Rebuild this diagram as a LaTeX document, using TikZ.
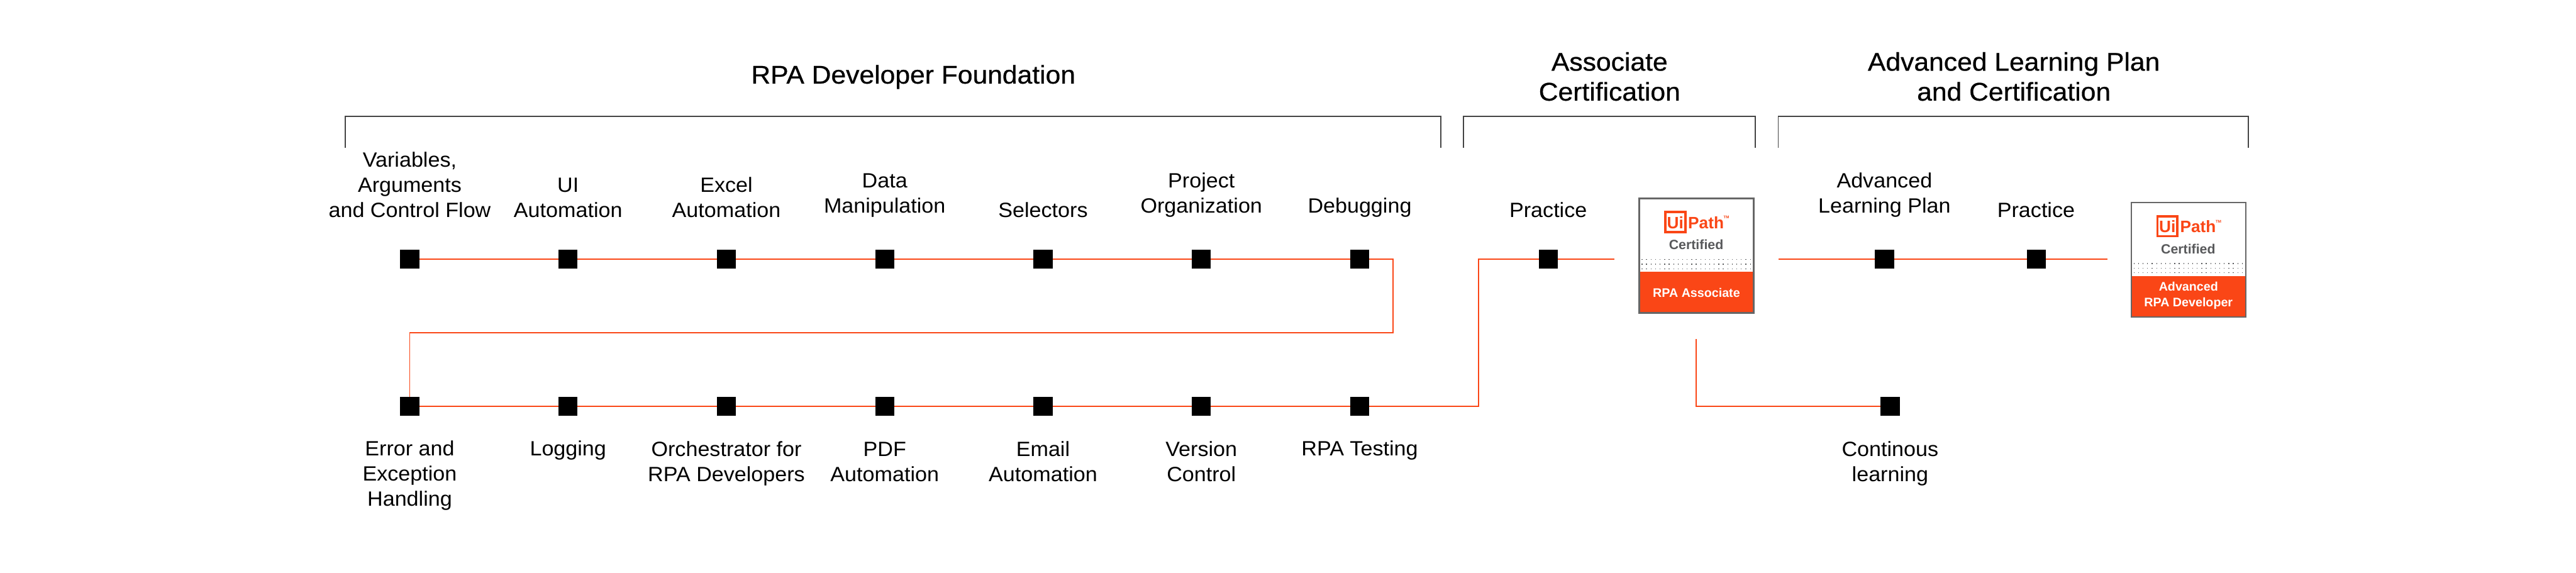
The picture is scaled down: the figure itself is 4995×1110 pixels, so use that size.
\documentclass[tikz,border=0pt]{standalone}
\usepackage{fontspec}
\setmainfont{Liberation Sans}
\newfontfamily\labfont[FakeStretch=1.04]{Liberation Sans}
\newfontfamily\headfont[FakeStretch=1.05,FakeBold=0.6]{Liberation Sans}
\definecolor{ui}{HTML}{FA4616}
\definecolor{brk}{HTML}{444444}
\definecolor{bd}{HTML}{666666}
\definecolor{cert}{HTML}{58595B}
\tikzset{
 sq/.style={fill=black,draw=none,minimum width=37pt,minimum height=37pt,inner sep=0pt,outer sep=0pt},
 lnk/.style={draw=ui,line width=2.4pt,line cap=butt,line join=miter},
 brack/.style={draw=brk,line width=2.3pt,line join=miter},
 lab/.style={font=\labfont\fontsize{40}{48.5}\selectfont,align=center,inner sep=0pt,text=black,anchor=base},
 head/.style={font=\headfont\fontsize{49.5}{58}\selectfont,align=center,inner sep=0pt,text=black,anchor=base},
 logo/.style={font=\bfseries\fontsize{32}{32}\selectfont,text=ui,inner sep=0pt,anchor=base},
 uimark/.style={font=\bfseries\fontsize{32}{32}\selectfont,text=ui,inner sep=0pt,anchor=base},
 tmark/.style={font=\bfseries\fontsize{7.5}{8}\selectfont,text=ui,inner sep=0pt,anchor=base west},
 cer/.style={font=\bfseries\fontsize{26}{26}\selectfont,text=cert,inner sep=0pt,anchor=base},
 blab/.style={font=\bfseries\fontsize{24}{30}\selectfont,text=white,inner sep=0pt,align=center,anchor=base},
 badgebox/.style={draw=bd,line width=3pt,fill=white,inner sep=0pt,outer sep=0pt,minimum width=222pt,minimum height=222pt},
}
% #1 prefix, #2 left outer x, #3 top outer y, #4 text, #5 baseline offset of last line
\newcommand{\certbadge}[5]{%
 \node[badgebox] (#1) at ({#2+112.5},{#3+112.5}) {};
 \fill[ui] ({#2+3},{#3+144}) rectangle ({#2+222},{#3+222});
 \foreach \r in {0,1,2}{\foreach \c in {0,...,24}{
   \fill[cert] ({#2+7+\c*8.75-0.8},{#3+120+\r*9-0.8}) rectangle ++(1.6,1.6);}}
 \draw[ui,line width=4.5pt] ({#2+52.2},{#3+28.2}) rectangle ({#2+90.8},{#3+66.8});
 \node[uimark] (#1ui) at ({#2+71.5},{#3+60}) {Ui};
 \node[logo] (#1path) at ({#2+131},{#3+60}) {Path};
 \node[tmark] (#1tm) at ({#2+165},{#3+41}) {TM};
 \node[cer] (#1cert) at ({#2+112},{#3+101}) {Certified};
 \node[blab] (#1lab) at ({#2+112.5},{#3+#5}) {#4};
}
\begin{document}
\begin{tikzpicture}[x=1pt,y=-1pt]
\useasboundingbox (0,0) rectangle (4995,1110);
\foreach \i/\n in {0/a,1/b,2/c,3/d,4/e,5/f,6/g}{
 \node[sq] (\n1) at ({794.5+307*\i},502.5) {};
 \node[sq] (\n2) at ({794.5+307*\i},787.5) {};
}
\node[sq] (p1) at (3002,502.5) {};
\node[sq] (adv) at (3654,502.5) {};
\node[sq] (p2) at (3949,502.5) {};
\node[sq] (cl) at (3665,787.5) {};
\coordinate (pend) at (3130,502.5);
\coordinate (astart) at (3449,502.5);
\coordinate (aend) at (4087,502.5);
\coordinate (ca) at (2701,502.5);
\coordinate (cb) at (2701,645);
\coordinate (cc) at (794.5,645);
\coordinate (cd) at (2867,787.5);
\coordinate (ce) at (2867,502.5);
\coordinate (cf) at (3289,657);
\coordinate (cg) at (3289,787.5);
% connectors
\foreach \u/\v in {a1/b1,b1/c1,c1/d1,d1/e1,e1/f1,f1/g1,a2/b2,b2/c2,c2/d2,d2/e2,e2/f2,f2/g2,p1/pend,astart/adv,adv/p2,p2/aend}{
 \draw[lnk] (\u)--(\v);
}
\draw[lnk] (g1)--(ca)--(cb)--(cc)--(a2);
\draw[lnk] (g2)--(cd)--(ce)--(p1);
\draw[lnk] (cf)--(cg)--(cl);
% brackets
\coordinate (b1a) at (669,287); \coordinate (b1b) at (669,226);
\coordinate (b1c) at (2794,226); \coordinate (b1d) at (2794,287);
\coordinate (b2a) at (2838,287); \coordinate (b2b) at (2838,226);
\coordinate (b2c) at (3403,226); \coordinate (b2d) at (3403,287);
\coordinate (b3a) at (3448,287); \coordinate (b3b) at (3448,226);
\coordinate (b3c) at (4360,226); \coordinate (b3d) at (4360,287);
\draw[brack] (b1a)--(b1b)--(b1c)--(b1d);
\draw[brack] (b2a)--(b2b)--(b2c)--(b2d);
\draw[brack] (b3a)--(b3b)--(b3c)--(b3d);
% headings
\node[head] (h1) at (1771,162) {RPA Developer Foundation};
\node[head] (h2) at (3121,195) {Associate\\Certification};
\node[head] (h3) at (3905,195) {Advanced Learning Plan\\and Certification};
% labels
\foreach \n/\x/\y/\t in {
 la/794.5/421/{Variables,\\Arguments\\and Control Flow},
 lb/1101.5/421/{UI\\Automation},
 lc/1408.5/421/{Excel\\Automation},
 ld/1715.5/413/{Data\\Manipulation},
 le/2022.5/421/{Selectors},
 lf/2329.5/413/{Project\\Organization},
 lg/2636.5/413/{Debugging},
 lp/3002/421/{Practice},
 lq/3654/413/{Advanced\\Learning Plan},
 lr/3948/421/{Practice},
 ma/794.5/981/{Error and\\Exception\\Handling},
 mb/1101.5/884/{Logging},
 mc/1408.5/933/{Orchestrator for\\RPA Developers},
 md/1715.5/933/{PDF\\Automation},
 me/2022.5/933/{Email\\Automation},
 mf/2329.5/933/{Version\\Control},
 mg/2636.5/884/{RPA Testing},
 mh/3665/933/{Continous\\learning}}{
 \node[lab] (\n) at (\x,\y) {\t};
}
% badges
\certbadge{assoc}{3177}{383}{RPA Associate}{193}
\certbadge{advb}{4131}{391}{Advanced\\RPA Developer}{203}
\end{tikzpicture}
\end{document}
